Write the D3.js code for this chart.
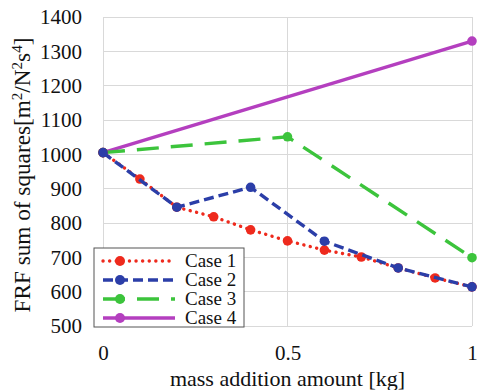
<!DOCTYPE html>
<meta charset="utf-8">
<style>

body {
  margin: 0;
  background: #fff;
}

.grid line {
  stroke: #d9d9d9;
  stroke-width: 1;
  shape-rendering: crispEdges;
}

.axis path,
.axis line {
  display: none;
}

</style>
<body>
<script src="https://d3js.org/d3.v7.min.js"></script>
<script>

var FONT = "'Liberation Serif', 'Times New Roman'";

var xTicks = [0, 0.5, 1];
var yTicks = [500, 600, 700, 800, 900, 1000, 1100, 1200, 1300, 1400];

var case1x = [0, 0.1, 0.2, 0.3, 0.4, 0.5, 0.6, 0.7, 0.8, 0.9, 1.0];
var case1y = [1005, 928, 846, 818, 780, 748, 721, 701, 669, 640, 614];

var case2x = [0, 0.2, 0.4, 0.6, 0.8, 1.0];
var case2y = [1005, 846, 904, 747, 669, 614];

var case3x = [0, 0.5, 1.0];
var case3y = [1005, 1051, 699];

var case4x = [0, 1.0];
var case4y = [1005, 1330];

var series = [
  {name: "Case 1", xs: case1x, ys: case1y, color: "#ee2a1d", dash: "0.1,6.5", cap: "round", width: 3.4},
  {name: "Case 2", xs: case2x, ys: case2y, color: "#2b3ea8", dash: "10,5", cap: "butt", width: 3.4},
  {name: "Case 3", xs: case3x, ys: case3y, color: "#3cc43c", dash: "22,12", cap: "butt", width: 3.4},
  {name: "Case 4", xs: case4x, ys: case4y, color: "#b43fbf", dash: null, cap: "butt", width: 3.4}
];

var margin = {top: 17, right: 5, bottom: 64, left: 103},
    width = 472 - margin.left,
    height = 326 - margin.top;

var x = d3.scaleLinear().domain([0, 1]).range([0, width]);
var y = d3.scaleLinear().domain([500, 1400]).range([height, 0]);

var svg = d3.select("body").append("svg")
    .attr("width", 477)
    .attr("height", 390)
  .append("g")
    .attr("transform", "translate(" + margin.left + "," + margin.top + ")");

// grid
var grid = svg.append("g").attr("class", "grid");
grid.selectAll(".h")
    .data(yTicks)
  .enter().append("line")
    .attr("x1", 0)
    .attr("x2", width)
    .attr("y1", function(d) { return y(d); })
    .attr("y2", function(d) { return y(d); });
grid.selectAll(".v")
    .data(xTicks)
  .enter().append("line")
    .attr("y1", 0)
    .attr("y2", height)
    .attr("x1", function(d) { return x(d); })
    .attr("x2", function(d) { return x(d); });

svg.append("g")
    .attr("class", "axis")
    .attr("transform", "translate(0," + height + ")")
    .call(d3.axisBottom(x).tickValues(xTicks).tickSize(0).tickPadding(19).tickFormat(d3.format("")));

svg.append("g")
    .attr("class", "axis")
    .call(d3.axisLeft(y).tickValues(yTicks).tickSize(0).tickPadding(21).tickFormat(d3.format("")));

svg.selectAll(".axis text")
    .style("font-family", FONT)
    .style("font-size", "21px")
    .style("fill", "#111");

// axis titles
svg.append("text")
    .attr("x", x(0.5))
    .attr("y", 369)
    .attr("text-anchor", "middle")
    .style("font-family", FONT)
    .style("font-size", "22px")
    .style("fill", "#111")
    .text("mass addition amount [kg]");

// y title, sized so that it runs about 275px like the original
function yTitle(fs) {
  svg.selectAll(".ytitle").remove();
  var sup = fs * 0.65, up = fs * 0.36;
  var t = svg.append("text")
      .attr("class", "ytitle")
      .attr("transform", "translate(-73,158) rotate(-90)")
      .attr("text-anchor", "middle")
      .style("font-family", FONT)
      .style("font-size", fs + "px")
      .style("fill", "#111");
  t.append("tspan").text("FRF sum of squares[m");
  t.append("tspan").attr("dy", -up).style("font-size", sup + "px").text("2");
  t.append("tspan").attr("dy", up).text("/N");
  t.append("tspan").attr("dy", -up).style("font-size", sup + "px").text("2");
  t.append("tspan").attr("dy", up).text("s");
  t.append("tspan").attr("dy", -up).style("font-size", sup + "px").text("4");
  t.append("tspan").attr("dy", up).text("]");
  return t;
}
var yt = yTitle(23);
var len = yt.node().getComputedTextLength();
if (len > 0) yTitle(Math.min(24, 23 * 275 / len));

// lines
var line = d3.line()
    .x(function(d) { return x(d[0]); })
    .y(function(d) { return y(d[1]); });

var drawOrder = [3, 2, 0, 1];
drawOrder.forEach(function(i) {
  var s = series[i];
  var pts = s.xs.map(function(v, j) { return [v, s.ys[j]]; });
  var g = svg.append("g");
  g.append("path")
      .datum(pts)
      .attr("fill", "none")
      .attr("stroke", s.color)
      .attr("stroke-width", s.width)
      .attr("stroke-linecap", s.cap)
      .attr("stroke-dasharray", s.dash)
      .attr("d", line);
  g.selectAll("circle")
      .data(pts)
    .enter().append("circle")
      .attr("cx", function(d) { return x(d[0]); })
      .attr("cy", function(d) { return y(d[1]); })
      .attr("r", 4.8)
      .attr("fill", s.color);
});

// legend
var lg = d3.select("svg").append("g")
    .attr("transform", "translate(94,248)");

lg.append("rect")
    .attr("width", 150)
    .attr("height", 79)
    .attr("fill", "#fff")
    .attr("stroke", "#555")
    .attr("stroke-width", 1);

var item = lg.selectAll(".legend")
    .data(series)
  .enter().append("g")
    .attr("transform", function(d, i) { return "translate(0," + (13 + i * 19) + ")"; });

item.append("line")
    .attr("x1", 9)
    .attr("x2", 81)
    .attr("stroke", function(d) { return d.color; })
    .attr("stroke-width", function(d) { return d.width; })
    .attr("stroke-linecap", function(d) { return d.cap; })
    .attr("stroke-dasharray", function(d) { return d.dash; });

item.append("circle")
    .attr("cx", 26)
    .attr("r", 5)
    .attr("fill", function(d) { return d.color; });

item.append("text")
    .attr("x", 91)
    .attr("dy", "0.33em")
    .style("font-family", FONT)
    .style("font-size", "19px")
    .style("fill", "#111")
    .text(function(d) { return d.name; });

</script>
</body>
